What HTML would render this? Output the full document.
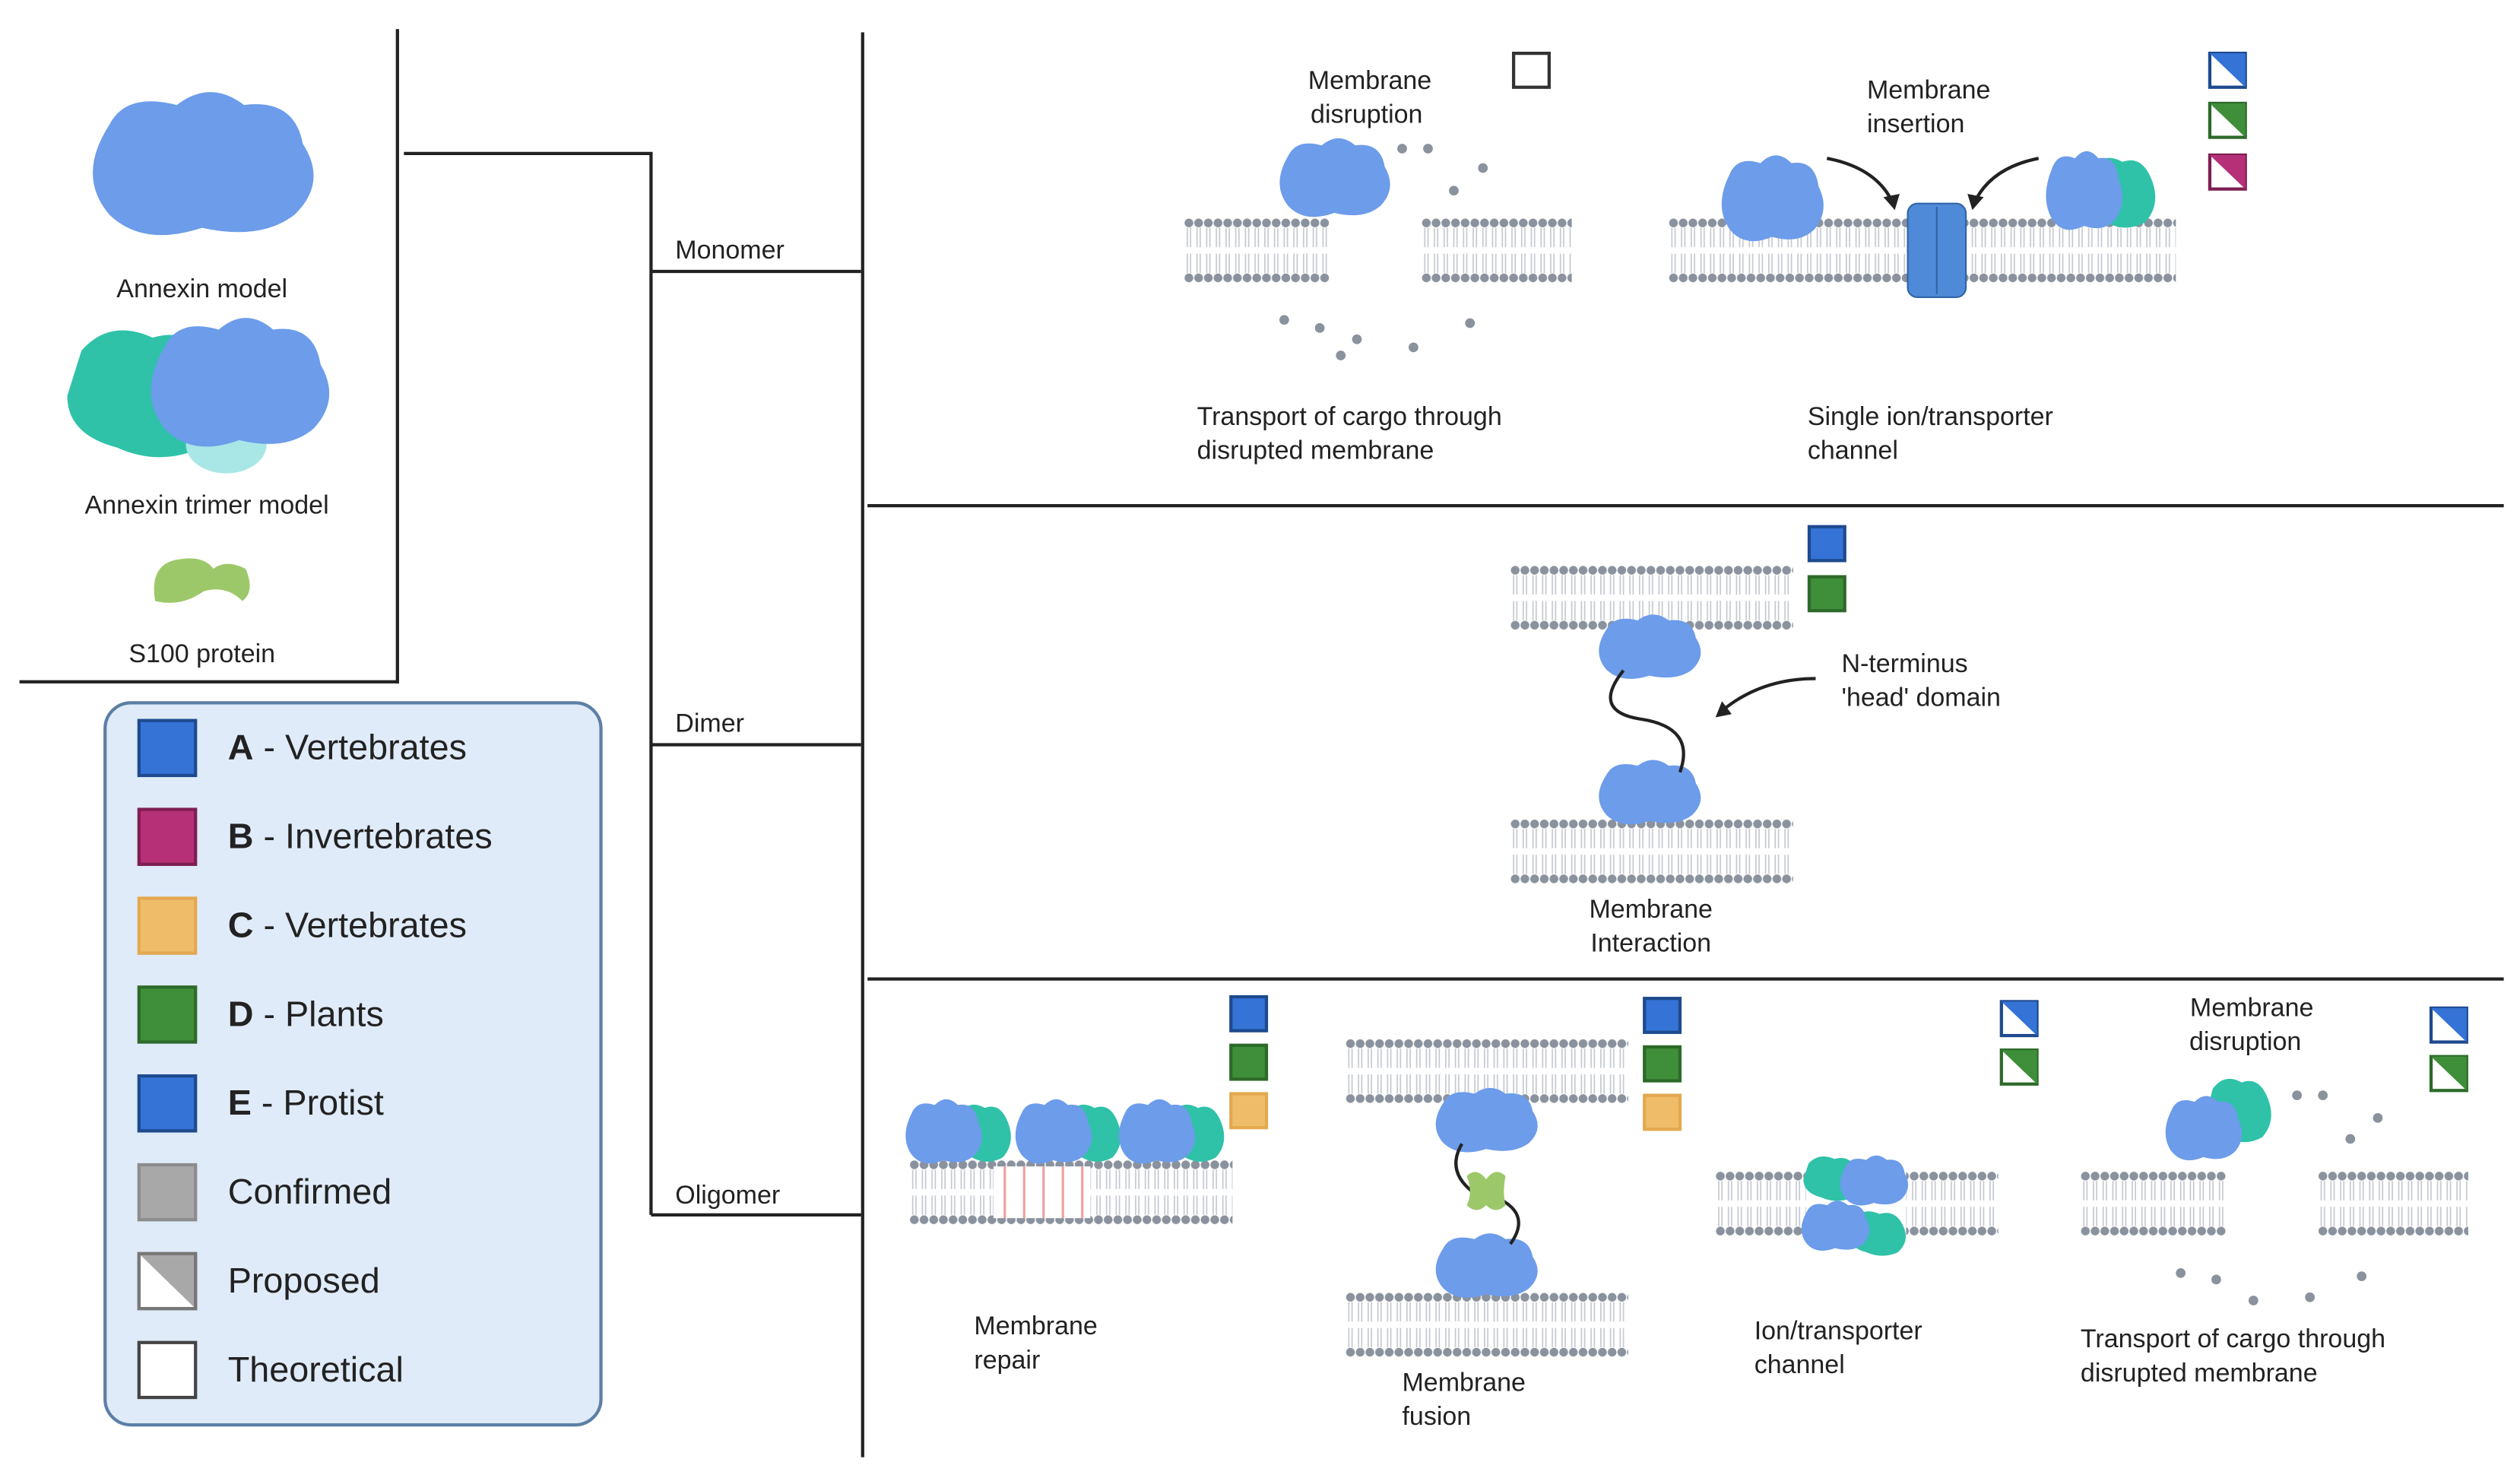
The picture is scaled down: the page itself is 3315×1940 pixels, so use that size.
<!DOCTYPE html>
<html><head><meta charset="utf-8"><style>html,body{margin:0;padding:0;background:#fff}svg{display:block}text{font-family:"Liberation Sans",sans-serif;fill:#222}</style></head>
<body>
<svg width="3315" height="1940" viewBox="0 0 1560 913" xmlns="http://www.w3.org/2000/svg">
<defs>
<pattern id="mem" x="0" y="0" width="6" height="40" patternUnits="userSpaceOnUse">
<circle cx="3" cy="3" r="2.7" fill="#8a929e"/>
<line x1="2" y1="6" x2="2" y2="18" stroke="#c4c9d0" stroke-width="0.8"/>
<line x1="4" y1="6" x2="4" y2="18" stroke="#c4c9d0" stroke-width="0.8"/>
<line x1="2" y1="22" x2="2" y2="34" stroke="#c4c9d0" stroke-width="0.8"/>
<line x1="4" y1="22" x2="4" y2="34" stroke="#c4c9d0" stroke-width="0.8"/>
<circle cx="3" cy="37" r="2.7" fill="#8a929e"/>
</pattern>
<g id="blob"><path d="M-22,-14 Q-18,-24 -6,-20 Q2,-28 10,-20 Q22,-22 24,-8 Q30,4 22,14 Q14,22 0,18 Q-14,24 -22,14 Q-30,2 -22,-14Z" fill="#6c9cea"/></g>
<g id="tblob"><path d="M-18,-14 Q-10,-24 2,-18 Q14,-22 20,-8 Q26,6 16,16 Q4,22 -8,16 Q-22,12 -22,0Z" fill="#2fc2a8"/></g>
</defs>

<line x1="246" y1="18" x2="246" y2="423" stroke="#222" stroke-width="2"/>
<line x1="12" y1="422" x2="247" y2="422" stroke="#222" stroke-width="2"/>
<polyline points="250,95 403,95 403,752" fill="none" stroke="#222" stroke-width="2"/>
<line x1="403" y1="168" x2="533" y2="168" stroke="#222" stroke-width="2"/>
<line x1="403" y1="461" x2="533" y2="461" stroke="#222" stroke-width="2"/>
<line x1="403" y1="752" x2="533" y2="752" stroke="#222" stroke-width="2"/>
<line x1="534" y1="20" x2="534" y2="902" stroke="#222" stroke-width="2"/>
<line x1="537" y1="313" x2="1550" y2="313" stroke="#222" stroke-width="2"/>
<line x1="537" y1="606" x2="1550" y2="606" stroke="#222" stroke-width="2"/>
<text x="418" y="160" font-size="16">Monomer</text>
<text x="418" y="453" font-size="16">Dimer</text>
<text x="418" y="745" font-size="16">Oligomer</text>

<g transform="translate(125,105) scale(2.6,2.0)"><use href="#blob"/></g>
<text x="125" y="184" font-size="16" text-anchor="middle">Annexin model</text>
<g transform="translate(90,245) scale(2.2,2.0)"><use href="#tblob"/></g>
<ellipse cx="140" cy="275" rx="25" ry="18" fill="#a9e6e6"/>
<g transform="translate(148,240) scale(2.1,1.8)"><use href="#blob"/></g>
<text x="128" y="318" font-size="16" text-anchor="middle">Annexin trimer model</text>
<path d="M96,372 Q92,348 112,346 Q126,344 132,352 Q140,346 152,352 Q158,366 150,372 Q140,362 126,366 Q112,376 96,372Z" fill="#9cc86a"/>
<text x="125" y="410" font-size="16" text-anchor="middle">S100 protein</text>

<rect x="65" y="435" width="307" height="447" rx="16" fill="#dfebf8" stroke="#5c7fa6" stroke-width="2"/>
<g stroke-width="2">
<rect x="86" y="446" width="35" height="34" fill="#3573d6" stroke="#1e4a8e"/>
<rect x="86" y="501" width="35" height="34" fill="#b63078" stroke="#7e1e52"/>
<rect x="86" y="556" width="35" height="34" fill="#efbd6a" stroke="#e3a94f"/>
<rect x="86" y="611" width="35" height="34" fill="#3f8f3a" stroke="#2d6a2a"/>
<rect x="86" y="666" width="35" height="34" fill="#3573d6" stroke="#1e4a8e"/>
<rect x="86" y="721" width="35" height="34" fill="#a8a8a8" stroke="#8c8c8c"/>
<rect x="86" y="776" width="35" height="34" fill="#fff" stroke="#777"/>
<path d="M86,776 L121,776 L121,810Z" fill="#a8a8a8"/>
<rect x="86" y="776" width="35" height="34" fill="none" stroke="#777"/>
<rect x="86" y="831" width="35" height="34" fill="#fff" stroke="#444"/>
</g>
<g font-size="22">
<text x="141" y="470"><tspan font-weight="bold">A</tspan> - Vertebrates</text>
<text x="141" y="525"><tspan font-weight="bold">B</tspan> - Invertebrates</text>
<text x="141" y="580"><tspan font-weight="bold">C</tspan> - Vertebrates</text>
<text x="141" y="635"><tspan font-weight="bold">D</tspan> - Plants</text>
<text x="141" y="690"><tspan font-weight="bold">E</tspan> - Protist</text>
<text x="141" y="745">Confirmed</text>
<text x="141" y="800">Proposed</text>
<text x="141" y="855">Theoretical</text>
</g>

<!-- MONOMER -->
<g transform="translate(733,135)"><rect width="90" height="40" fill="url(#mem)"/></g>
<g transform="translate(880,135)"><rect width="93" height="40" fill="url(#mem)"/></g>
<g transform="translate(826,112) scale(1.3,1.1)"><use href="#blob"/></g>
<g fill="#8a929e"><circle cx="868" cy="92" r="3"/><circle cx="884" cy="92" r="3"/><circle cx="918" cy="104" r="3"/><circle cx="900" cy="118" r="3"/><circle cx="795" cy="198" r="3"/><circle cx="817" cy="203" r="3"/><circle cx="840" cy="210" r="3"/><circle cx="875" cy="215" r="3"/><circle cx="910" cy="200" r="3"/><circle cx="830" cy="220" r="3"/></g>
<text x="848" y="55" font-size="16" text-anchor="middle">Membrane</text>
<text x="846" y="76" font-size="16" text-anchor="middle">disruption</text>
<rect x="937" y="33" width="22" height="21" fill="#fff" stroke="#333" stroke-width="2"/>
<text x="741" y="263" font-size="16">Transport of cargo through</text>
<text x="741" y="284" font-size="16">disrupted membrane</text>

<g transform="translate(1033,135)"><rect width="314" height="40" fill="url(#mem)"/></g>
<g transform="translate(1097,125) scale(1.2,1.2)"><use href="#blob"/></g>
<g transform="translate(1312,120) scale(1.0,1.1)"><use href="#tblob"/></g>
<g transform="translate(1290,120) scale(0.9,1.1)"><use href="#blob"/></g>
<rect x="1181" y="126" width="36" height="58" rx="6" fill="#4f8ad8" stroke="#2e64a8"/>
<line x1="1199" y1="128" x2="1199" y2="182" stroke="#2e64a8"/>
<path d="M1131,98 Q1162,104 1172,126" fill="none" stroke="#222" stroke-width="2"/>
<path d="M1166,122 L1173,130 L1176,120Z" fill="#222"/>
<path d="M1262,98 Q1232,104 1222,126" fill="none" stroke="#222" stroke-width="2"/>
<path d="M1218,120 L1221,130 L1228,122Z" fill="#222"/>
<text x="1194" y="61" font-size="16" text-anchor="middle">Membrane</text>
<text x="1186" y="82" font-size="16" text-anchor="middle">insertion</text>
<text x="1119" y="263" font-size="16">Single ion/transporter</text>
<text x="1119" y="284" font-size="16">channel</text>
<g stroke-width="2">
<rect x="1368" y="33" width="22" height="21" fill="#fff" stroke="#1e4a8e"/><path d="M1368,33 L1390,33 L1390,54Z" fill="#3573d6"/>
<rect x="1368" y="64" width="22" height="21" fill="#fff" stroke="#2d6a2a"/><path d="M1368,64 L1390,64 L1390,85Z" fill="#3f8f3a"/>
<rect x="1368" y="96" width="22" height="21" fill="#fff" stroke="#7e1e52"/><path d="M1368,96 L1390,96 L1390,117Z" fill="#b63078"/>
</g>

<!-- DIMER -->
<g transform="translate(935,350)"><rect width="175" height="40" fill="url(#mem)"/></g>
<g transform="translate(935,507)"><rect width="175" height="40" fill="url(#mem)"/></g>
<g transform="translate(1021,402) scale(1.2,0.9)"><use href="#blob"/></g>
<g transform="translate(1021,492) scale(1.2,0.9)"><use href="#blob"/></g>
<path d="M1005,415 Q985,440 1015,445 Q1050,450 1040,478" fill="none" stroke="#222" stroke-width="2"/>
<path d="M1124,420 Q1090,420 1066,440" fill="none" stroke="#222" stroke-width="2"/>
<path d="M1062,444 L1072,442 L1066,434Z" fill="#222"/>
<text x="1140" y="416" font-size="16">N-terminus</text>
<text x="1140" y="437" font-size="16">'head' domain</text>
<text x="1022" y="568" font-size="16" text-anchor="middle">Membrane</text>
<text x="1022" y="589" font-size="16" text-anchor="middle">Interaction</text>
<rect x="1120" y="326" width="22" height="21" fill="#3573d6" stroke="#1e4a8e" stroke-width="2"/>
<rect x="1120" y="357" width="22" height="21" fill="#3f8f3a" stroke="#2d6a2a" stroke-width="2"/>

<!-- OLIGOMER -->
<g transform="translate(563,718)"><rect width="200" height="40" fill="url(#mem)"/></g>
<rect x="615" y="722" width="60" height="32" fill="#fff"/>
<g stroke="#f0a0a0" stroke-width="1.5"><line x1="622" y1="722" x2="622" y2="754"/><line x1="634" y1="722" x2="634" y2="754"/><line x1="646" y1="722" x2="646" y2="754"/><line x1="658" y1="722" x2="658" y2="754"/><line x1="670" y1="722" x2="670" y2="754"/></g>
<g transform="translate(608,702) scale(0.8,0.9)"><use href="#tblob"/></g>
<g transform="translate(584,702) scale(0.9,0.9)"><use href="#blob"/></g>
<g transform="translate(676,702) scale(0.8,0.9)"><use href="#tblob"/></g>
<g transform="translate(652,702) scale(0.9,0.9)"><use href="#blob"/></g>
<g transform="translate(740,702) scale(0.8,0.9)"><use href="#tblob"/></g>
<g transform="translate(716,702) scale(0.9,0.9)"><use href="#blob"/></g>
<text x="603" y="826" font-size="16">Membrane</text>
<text x="603" y="847" font-size="16">repair</text>
<rect x="762" y="617" width="22" height="21" fill="#3573d6" stroke="#1e4a8e" stroke-width="2"/>
<rect x="762" y="647" width="22" height="21" fill="#3f8f3a" stroke="#2d6a2a" stroke-width="2"/>
<rect x="762" y="677" width="22" height="21" fill="#efbd6a" stroke="#e3a94f" stroke-width="2"/>

<g transform="translate(833,643)"><rect width="175" height="40" fill="url(#mem)"/></g>
<g transform="translate(833,800)"><rect width="175" height="40" fill="url(#mem)"/></g>
<g transform="translate(920,695) scale(1.2,0.9)"><use href="#blob"/></g>
<g transform="translate(920,785) scale(1.2,0.9)"><use href="#blob"/></g>
<path d="M905,708 Q895,725 912,738 M928,742 Q948,752 935,770" fill="none" stroke="#222" stroke-width="2"/>
<path d="M908,728 Q914,722 920,730 Q926,722 932,728 Q930,738 932,746 Q926,752 920,746 Q914,752 908,746 Q912,738 908,728Z" fill="#9cc86a"/>
<text x="868" y="861" font-size="16">Membrane</text>
<text x="868" y="882" font-size="16">fusion</text>
<rect x="1018" y="618" width="22" height="21" fill="#3573d6" stroke="#1e4a8e" stroke-width="2"/>
<rect x="1018" y="648" width="22" height="21" fill="#3f8f3a" stroke="#2d6a2a" stroke-width="2"/>
<rect x="1018" y="678" width="22" height="21" fill="#efbd6a" stroke="#e3a94f" stroke-width="2"/>

<g transform="translate(1062,725)"><rect width="175" height="40" fill="url(#mem)"/></g>
<rect x="1118" y="722" width="62" height="46" fill="#fff"/>
<g transform="translate(1134,730) scale(0.8,0.7)"><use href="#tblob"/></g>
<g transform="translate(1162,764) scale(0.8,0.7)"><use href="#tblob"/></g>
<g transform="translate(1160,732) scale(0.8,0.7)"><use href="#blob"/></g>
<g transform="translate(1136,760) scale(0.8,0.7)"><use href="#blob"/></g>
<text x="1086" y="829" font-size="16">Ion/transporter</text>
<text x="1086" y="850" font-size="16">channel</text>
<g stroke-width="2">
<rect x="1239" y="620" width="22" height="21" fill="#fff" stroke="#1e4a8e"/><path d="M1239,620 L1261,620 L1261,641Z" fill="#3573d6"/>
<rect x="1239" y="650" width="22" height="21" fill="#fff" stroke="#2d6a2a"/><path d="M1239,650 L1261,650 L1261,671Z" fill="#3f8f3a"/>
</g>

<g transform="translate(1288,725)"><rect width="90" height="40" fill="url(#mem)"/></g>
<g transform="translate(1435,725)"><rect width="93" height="40" fill="url(#mem)"/></g>
<g transform="translate(1386,688) scale(0.9,1.0)"><use href="#tblob"/></g>
<g transform="translate(1364,700) scale(0.9,0.9)"><use href="#blob"/></g>
<g fill="#8a929e"><circle cx="1422" cy="678" r="3"/><circle cx="1438" cy="678" r="3"/><circle cx="1472" cy="692" r="3"/><circle cx="1455" cy="705" r="3"/><circle cx="1350" cy="788" r="3"/><circle cx="1372" cy="792" r="3"/><circle cx="1395" cy="805" r="3"/><circle cx="1430" cy="803" r="3"/><circle cx="1462" cy="790" r="3"/></g>
<text x="1394" y="629" font-size="16" text-anchor="middle">Membrane</text>
<text x="1390" y="650" font-size="16" text-anchor="middle">disruption</text>
<text x="1288" y="834" font-size="16">Transport of cargo through</text>
<text x="1288" y="855" font-size="16">disrupted membrane</text>
<g stroke-width="2">
<rect x="1505" y="624" width="22" height="21" fill="#fff" stroke="#1e4a8e"/><path d="M1505,624 L1527,624 L1527,645Z" fill="#3573d6"/>
<rect x="1505" y="654" width="22" height="21" fill="#fff" stroke="#2d6a2a"/><path d="M1505,654 L1527,654 L1527,675Z" fill="#3f8f3a"/>
</g>
</svg>
</body></html>
